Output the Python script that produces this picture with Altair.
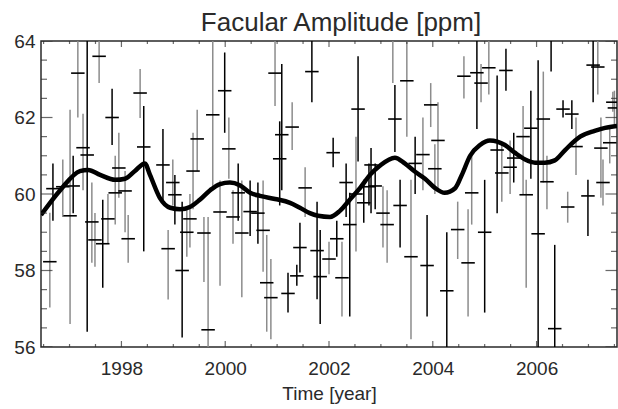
import altair as alt
import pandas as pd

# ---- data ----
pt_year = [1996.62, 1996.68, 1996.87, 1997.01, 1997.07, 1997.16, 1997.26, 1997.34, 1997.43, 1997.49,
           1997.57, 1997.64, 1997.74, 1997.82, 1997.88, 1997.95, 1998.07, 1998.13, 1998.36, 1998.43,
           1998.80, 1998.90, 1998.99, 1999.03, 1999.17, 1999.26, 1999.32, 1999.38, 1999.46, 1999.59,
           1999.67, 1999.76, 1999.90, 1999.99, 2000.07, 2000.15, 2000.25, 2000.32, 2000.48, 2000.63,
           2000.73, 2000.80, 2000.88, 2000.96, 2001.05, 2001.09, 2001.21, 2001.29, 2001.38, 2001.44,
           2001.54, 2001.67, 2001.77, 2001.83, 2002.00, 2002.08, 2002.15, 2002.25, 2002.33, 2002.40,
           2002.52, 2002.56, 2002.67, 2002.77, 2002.81, 2002.89, 2003.04, 2003.12, 2003.23, 2003.27,
           2003.37, 2003.50, 2003.58, 2003.66, 2003.81, 2003.89, 2003.96, 2004.04, 2004.10, 2004.27,
           2004.48, 2004.60, 2004.68, 2004.75, 2004.85, 2004.93, 2005.00, 2005.08, 2005.24, 2005.33,
           2005.41, 2005.49, 2005.56, 2005.74, 2005.80, 2005.89, 2006.03, 2006.13, 2006.20, 2006.28,
           2006.35, 2006.51, 2006.60, 2006.68, 2006.76, 2006.99, 2007.09, 2007.18, 2007.24, 2007.28,
           2007.41, 2007.47, 2007.50]
pt_amp = [58.23, 60.14, 60.19, 59.43, 60.21, 63.16, 61.21, 61.02, 59.27, 58.80,
          63.60, 58.70, 59.35, 62.00, 60.03, 60.68, 60.08, 58.83, 62.64, 61.23,
          60.76, 58.57, 60.30, 59.98, 58.00, 59.00, 59.35, 60.60, 61.44, 58.98,
          56.45, 62.07, 59.53, 62.70, 61.18, 59.40, 60.03, 58.98, 59.54, 59.50,
          59.05, 57.68, 57.29, 63.16, 60.92, 61.55, 57.40, 61.75, 57.86, 58.60,
          60.16, 63.20, 58.52, 57.84, 58.30, 61.08, 58.83, 57.81, 60.30, 59.20,
          60.00, 62.22, 59.77, 60.19, 60.76, 60.21, 59.50, 59.20, 64.60, 61.96,
          59.70, 62.96, 58.36, 60.80, 61.03, 58.13, 62.33, 60.66, 61.40, 57.47,
          59.07, 63.08, 58.20, 60.03, 63.17, 62.90, 59.00, 63.30, 61.15, 60.55,
          63.23, 60.70, 60.94, 61.50, 59.98, 61.72, 58.96, 61.96, 60.32, 64.50,
          56.48, 62.22, 59.66, 62.09, 61.24, 59.95, 63.37, 63.32, 61.20, 60.30,
          61.34, 62.40, 62.25]
pt_lo = [57.03, 59.30, 59.40, 56.60, 59.50, 62.00, 60.10, 56.40, 58.20, 58.10,
         62.90, 57.55, 58.70, 61.28, 59.20, 59.90, 59.00, 58.20, 61.99, 58.50,
         59.80, 57.24, 59.70, 59.20, 56.25, 58.36, 58.60, 59.60, 60.60, 57.70,
         55.90, 60.10, 57.60, 61.60, 60.40, 58.70, 59.30, 57.30, 58.90, 58.70,
         57.97, 56.40, 56.20, 62.30, 59.70, 60.10, 56.90, 61.15, 57.60, 57.95,
         59.40, 62.40, 57.25, 56.60, 57.90, 60.70, 58.36, 56.80, 59.40, 56.80,
         58.50, 60.85, 59.25, 59.70, 59.50, 59.60, 58.60, 58.20, 62.90, 61.10,
         58.60, 61.50, 56.20, 60.00, 60.10, 56.80, 61.75, 60.00, 60.10, 55.90,
         58.30, 62.50, 56.80, 59.20, 61.70, 62.40, 56.90, 62.60, 59.50, 59.80,
         62.70, 60.00, 60.30, 60.00, 57.55, 60.40, 55.90, 60.30, 59.60, 63.20,
         55.90, 62.00, 59.25, 61.70, 60.50, 58.90, 62.40, 62.60, 59.90, 59.70,
         60.80, 62.15, 61.80]
pt_hi = [59.51, 60.80, 60.90, 62.20, 61.00, 64.30, 62.10, 65.60, 60.30, 59.50,
         64.30, 59.85, 60.00, 62.75, 61.00, 61.60, 60.60, 59.45, 63.27, 62.30,
         61.70, 59.06, 60.90, 60.50, 59.80, 59.67, 60.00, 61.60, 62.20, 59.40,
         59.40, 64.50, 60.35, 63.70, 62.00, 60.10, 60.80, 60.35, 60.35, 60.30,
         60.35, 58.93, 58.30, 64.30, 61.90, 63.40, 57.94, 62.40, 58.15, 59.25,
         60.70, 64.30, 59.80, 59.06, 58.75, 61.47, 59.30, 58.75, 60.80, 60.03,
         61.50, 63.60, 60.37, 60.80, 61.20, 60.80, 60.20, 60.10, 66.00, 62.85,
         60.37, 64.30, 60.37, 61.50, 62.00, 59.45, 62.90, 61.30, 62.40, 59.00,
         59.80, 63.60, 59.60, 61.00, 64.60, 63.40, 60.37, 64.30, 63.10, 61.30,
         63.80, 61.40, 61.60, 62.30, 60.37, 62.70, 63.50, 63.20, 61.00, 66.00,
         58.67, 62.45, 60.06, 62.45, 62.00, 60.37, 64.30, 64.00, 62.00, 60.90,
         61.70, 62.67, 62.70]
pt_group = ["g", "k", "g", "g", "k", "g", "g", "k", "g", "g",
            "g", "k", "g", "k", "g", "g", "g", "g", "g", "k",
            "k", "g", "g", "k", "k", "g", "g", "g", "g", "g",
            "g", "g", "g", "k", "g", "g", "k", "g", "k", "k",
            "g", "g", "g", "g", "k", "k", "k", "g", "k", "k",
            "g", "k", "k", "k", "g", "k", "k", "g", "k", "k",
            "g", "k", "k", "k", "k", "k", "g", "g", "g", "k",
            "k", "g", "g", "k", "g", "k", "g", "g", "g", "k",
            "g", "g", "g", "g", "k", "g", "k", "g", "k", "g",
            "k", "g", "k", "g", "g", "k", "k", "g", "g", "k",
            "k", "k", "g", "k", "g", "k", "k", "g", "g", "g",
            "g", "g", "g"]

fit_year = [1996.45, 1996.82, 1997.20, 1997.36, 1997.59, 1997.88, 1998.07, 1998.26, 1998.45, 1998.55,
            1998.74, 1998.94, 1999.13, 1999.32, 1999.51, 1999.71, 1999.90, 2000.09, 2000.28, 2000.48,
            2000.67, 2000.96, 2001.25, 2001.44, 2001.63, 2001.79, 2002.02, 2002.21, 2002.40, 2002.60,
            2002.79, 2002.98, 2003.27, 2003.46, 2003.66, 2003.85, 2004.04, 2004.23, 2004.43, 2004.56,
            2004.72, 2004.91, 2005.10, 2005.39, 2005.58, 2005.78, 2005.97, 2006.16, 2006.35, 2006.55,
            2006.84, 2007.12, 2007.32, 2007.55]
fit_amp = [59.45, 60.10, 60.60, 60.63, 60.50, 60.37, 60.40, 60.60, 60.80, 60.50,
           59.90, 59.64, 59.60, 59.66, 59.85, 60.10, 60.26, 60.30, 60.23, 60.03,
           59.95, 59.87, 59.77, 59.64, 59.50, 59.43, 59.40, 59.56, 59.85, 60.16,
           60.50, 60.74, 60.95, 60.80, 60.58, 60.40, 60.16, 60.03, 60.15, 60.50,
           61.00, 61.28, 61.40, 61.28, 61.08, 60.90, 60.82, 60.82, 60.88, 61.15,
           61.50, 61.65, 61.73, 61.78]

x_major = [1998, 2000, 2002, 2004, 2006]
x_minor = [1996.5, 1997, 1997.5, 1998.5, 1999, 1999.5, 2000.5, 2001, 2001.5, 2002.5, 2003,
           2003.5, 2004.5, 2005, 2005.5, 2006.5, 2007, 2007.5]
y_major = [56, 58, 60, 62, 64]
y_minor = [56.5, 57, 57.5, 58.5, 59, 59.5, 60.5, 61, 61.5, 62.5, 63, 63.5]
title_text = ["Facular Amplitude [ppm]"]

X_DOMAIN = [1996.45, 2007.55]
Y_DOMAIN = [56, 64]
W, H = 576, 306
HALF = 0.13
FONT = "Liberation Sans"
TXT = "#2a2a2a"

pts = pd.DataFrame({"year": pt_year, "amp": pt_amp, "lo": pt_lo, "hi": pt_hi, "grp": pt_group})
pts["y0"] = pts["year"] - HALF
pts["y1"] = pts["year"] + HALF
fit = pd.DataFrame({"year": fit_year, "amp": fit_amp})
xt = pd.DataFrame({"t": x_major + x_minor, "len": [12] * len(x_major) + [6] * len(x_minor)})
yt = pd.DataFrame({"v": y_major + y_minor, "len": [23] * len(y_major) + [12] * len(y_minor)})
tt = pd.DataFrame({"label": title_text})

xs = alt.Scale(domain=X_DOMAIN, nice=False, zero=False)
ys = alt.Scale(domain=Y_DOMAIN, nice=False, zero=False)
cscale = alt.Scale(domain=["k", "g"], range=["#000000", "#8c8c8c"])

xax = alt.Axis(values=x_major, format="d", ticks=False, domain=False, grid=False,
               labelFont=FONT, labelFontSize=19, labelColor=TXT, labelPadding=12,
               title="Time [year]", titleFont=FONT, titleFontSize=19, titleFontWeight="normal",
               titleColor=TXT, titlePadding=6)
yax = alt.Axis(values=y_major, format="d", ticks=False, domain=False, grid=False,
               labelFont=FONT, labelFontSize=19, labelColor=TXT, labelPadding=6, title=None)

vbars = alt.Chart(pts).mark_rule(clip=True, strokeWidth=1.5).encode(
    x=alt.X("year:Q", scale=xs, axis=xax),
    y=alt.Y("lo:Q", scale=ys, axis=yax),
    y2="hi:Q",
    color=alt.Color("grp:N", scale=cscale, legend=None),
)
hbars = alt.Chart(pts).mark_rule(clip=True, strokeWidth=1.6, color="#000000").encode(
    x="y0:Q", x2="y1:Q", y="amp:Q",
)
curve = alt.Chart(fit).mark_line(clip=True, color="black", strokeWidth=4.5,
                                 interpolate="monotone").encode(x="year:Q", y="amp:Q")

title = alt.Chart(tt).mark_text(font=FONT, fontSize=26, color=TXT, align="center",
                                baseline="alphabetic").encode(
    text="label:N", x=alt.value(W / 2 + 12), y=alt.value(-10))

def xtick(ypos):
    return alt.Chart(xt).mark_tick(clip=True, orient="vertical", thickness=1.2, color=TXT).encode(
        x="t:Q", y=alt.value(ypos), size=alt.Size("len:Q", scale=None))

def ytick(xpos):
    return alt.Chart(yt).mark_tick(clip=True, orient="horizontal", thickness=1.2, color=TXT).encode(
        y="v:Q", x=alt.value(xpos), size=alt.Size("len:Q", scale=None))

chart = alt.layer(vbars, hbars, curve, xtick(H), xtick(0), ytick(0), ytick(W), title).properties(
    width=W, height=H,
    padding={"left": 41, "top": 41, "right": 1, "bottom": 62},
    autosize="none",
).configure_view(stroke=TXT, strokeWidth=1.5)

chart.save("out.html", embed_options={"renderer": "svg", "actions": False})
